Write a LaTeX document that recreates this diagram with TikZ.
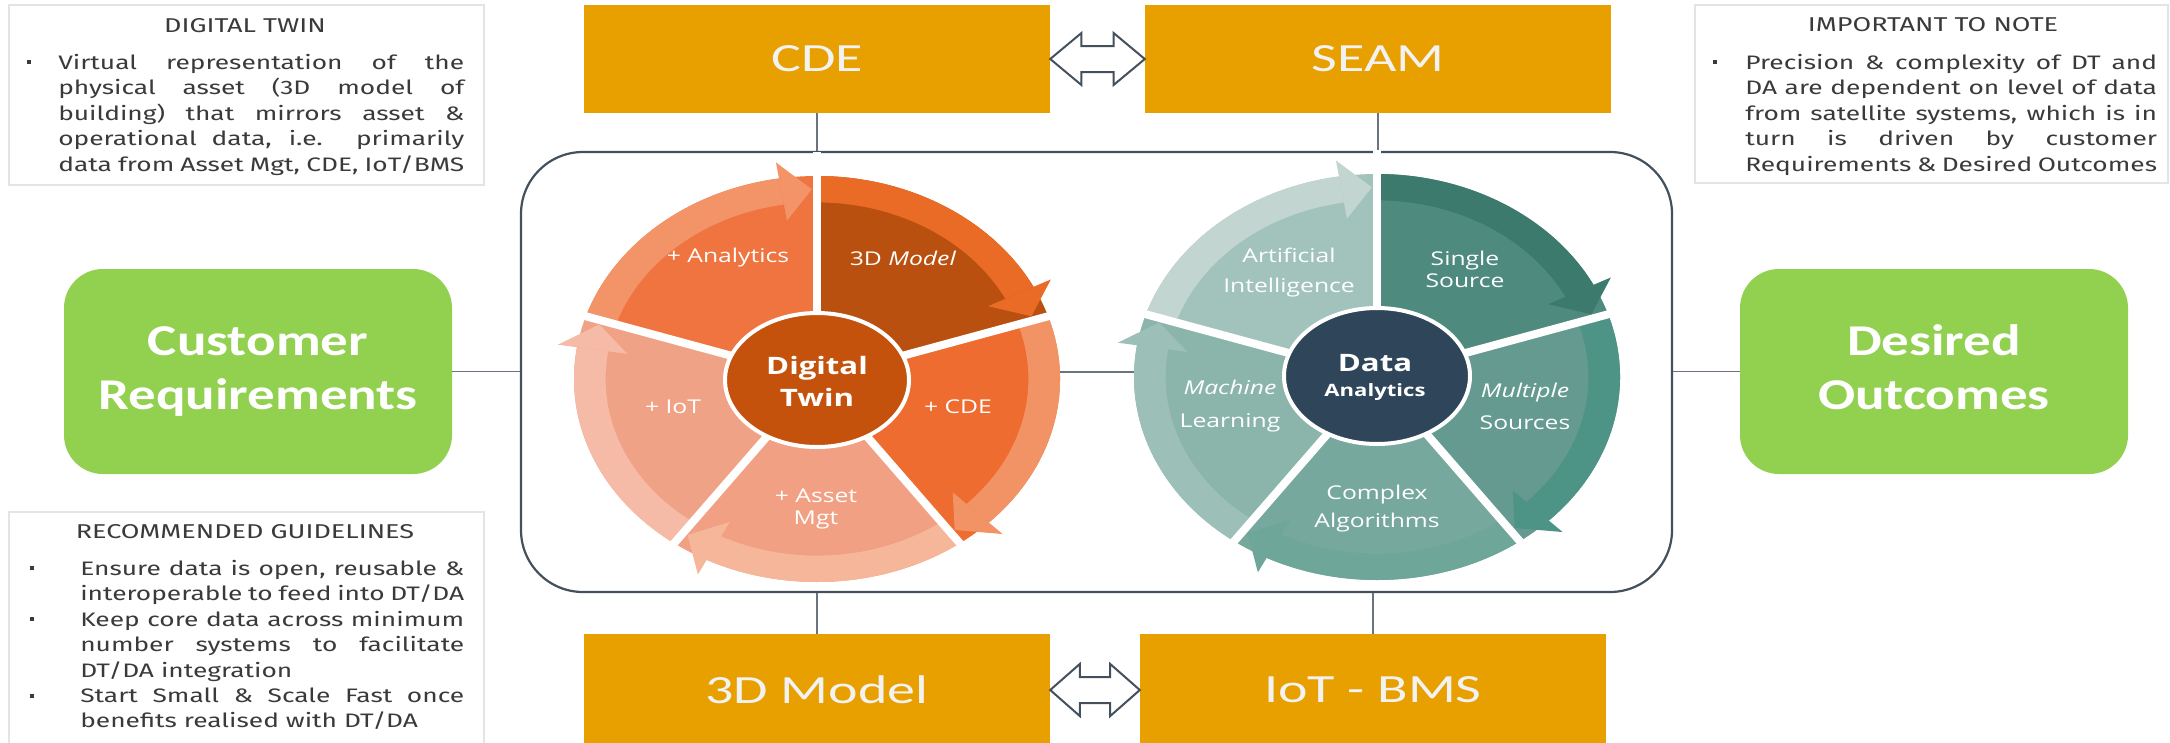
\documentclass[tikz,border=0pt]{standalone}
\usepackage{fontspec}
\setmainfont{Fira Sans}
\newfontfamily\calib{Carlito}
\newfontfamily\wheelf{Open Sans}
\usetikzlibrary{calc}
\setlength{\parindent}{0pt}
\hyphenpenalty=10000 \exhyphenpenalty=10000 \tolerance=10000 \hbadness=10000
\definecolor{gold}{HTML}{E8A000}
\definecolor{lime}{HTML}{92D050}
\definecolor{slate}{HTML}{44505C}
\definecolor{connc}{HTML}{6A7480}
\definecolor{txt}{HTML}{3A3A3A}
\definecolor{frame}{HTML}{E4E4E4}
\definecolor{boxtxt}{HTML}{F2F2F2}
% digital twin wheel
\definecolor{dA}{HTML}{B9500F}\definecolor{dAb}{HTML}{E96B26}
\definecolor{dB}{HTML}{EE6C30}\definecolor{dBb}{HTML}{F29366}
\definecolor{dC}{HTML}{F1A083}\definecolor{dCb}{HTML}{F6B69A}
\definecolor{dD}{HTML}{F0A286}\definecolor{dDb}{HTML}{F5BBA6}
\definecolor{dE}{HTML}{EF7440}\definecolor{dEb}{HTML}{F39468}
\definecolor{dIn}{HTML}{C4510C}
% data analytics wheel
\definecolor{aA}{HTML}{4F8A7E}\definecolor{aAb}{HTML}{3D7A6E}
\definecolor{aB}{HTML}{649A8F}\definecolor{aBb}{HTML}{4E9486}
\definecolor{aC}{HTML}{76A89D}\definecolor{aCb}{HTML}{6EA699}
\definecolor{aD}{HTML}{8BB5AB}\definecolor{aDb}{HTML}{9CBFB7}
\definecolor{aE}{HTML}{A1C3BB}\definecolor{aEb}{HTML}{C3D5D1}
\definecolor{aIn}{HTML}{2F4559}
\newcommand\fl{\rule{0pt}{13pt}}
% segment: start angle, end angle (clockwise), body colour, band colour
\newcommand\wseg[4]{%
  \fill[#3] (0,0) -- (#1:1) arc[start angle=#1, end angle=#2, radius=1] -- cycle;
  \fill[#4] (#1:0.87) -- (#1:1) arc[start angle=#1, end angle={#2+9}, radius=1]
     -- ({#2+9}:0.87) arc[start angle={#2+9}, end angle=#1, radius=0.87] -- cycle;
  \fill[#4] ({#2+9}:0.79) -- ({#2+9}:1.08) -- ({#2+1.3}:0.935) -- cycle;
}
\newcommand\gaps{%
  \foreach \g in {90,18,-54,-126,162} {\draw[white, line width=8pt] (0,0) -- (\g:1.12);}
}
\newcommand\dblarr[2]{%
  \draw[dbl] (#1) -- ($(#1)!0.33!(#2)+(0,-26)$) -- ($(#1)!0.33!(#2)+(0,-13)$)
    -- ($(#1)!0.67!(#2)+(0,-13)$) -- ($(#1)!0.67!(#2)+(0,-26)$) -- (#2)
    -- ($(#1)!0.67!(#2)+(0,26)$) -- ($(#1)!0.67!(#2)+(0,13)$)
    -- ($(#1)!0.33!(#2)+(0,13)$) -- ($(#1)!0.33!(#2)+(0,26)$) -- cycle;
}
\begin{document}
\begin{tikzpicture}[x=1pt,y=-1pt,
  tframe/.style={draw=frame, line width=1.2pt, fill=white, inner sep=0pt},
  para/.style={anchor=north west, inner sep=0pt, align=justify, text=txt,
     font=\fontsize{19.5}{25.4}\selectfont, xscale=1.35},
  ttl/.style={inner sep=0pt, text=txt, font=\fontsize{20}{22}\selectfont, xscale=1.35},
  obox/.style={fill=gold, minimum width=466pt, inner sep=0pt, text=boxtxt,
     font=\calib\fontsize{40}{48}\selectfont},
  gbox/.style={fill=lime, rounded corners=39pt, minimum width=388pt, minimum height=205pt,
     inner sep=0pt, text=white, font=\calib\bfseries\fontsize{44}{54}\selectfont},
  conn/.style={draw=connc, line width=1.5pt},
  dbl/.style={draw=slate, line width=2pt, fill=white, line join=miter},
  wt/.style={inner sep=0pt, text=white, align=center, xscale=1.3,
     font=\wheelf\fontsize{19}{28}\selectfont},
  wtb/.style={wt, font=\wheelf\bfseries\fontsize{24}{32}\selectfont},
  bul/.style={fill=txt, inner sep=0pt, minimum size=4pt},
]
\useasboundingbox (0,0) rectangle (2170,742);
\fill[white] (0,0) rectangle (2170,742);

% ---------- text boxes ----------
\node[tframe, minimum width=475pt, minimum height=180pt] (dtbox) at (246.5,95) {};
\node[tframe, minimum width=473pt, minimum height=178pt] (notebox) at (1931.5,94) {};
\node[tframe, minimum width=475pt, minimum height=240pt] (recbox) at (246.5,632) {};

\node[ttl] (dtttl) at (245,26) {DIGITAL TWIN};
\node[ttl] (notettl) at (1933,25) {IMPORTANT TO NOTE};
\node[ttl] (recttl) at (245,532) {RECOMMENDED GUIDELINES};

\node[bul] (b1) at (29,62) {};
\node[bul] (b2) at (1715,62) {};
\node[bul] (b3) at (32,568) {};
\node[bul] (b4) at (32,619) {};
\node[bul] (b5) at (32,696) {};

\node[para, text width=300.7pt] (dttxt) at (58,54) {\fl Virtual representation of the\linebreak
 physical asset (3D model of\linebreak building) that mirrors asset \&\linebreak
 operational data, i.e. primarily\linebreak data from Asset Mgt, CDE, IoT/BMS};
\node[para, text width=305pt] (notetxt) at (1745,54) {\fl Precision \& complexity of DT and\linebreak
 DA are dependent on level of data\linebreak from satellite systems, which is in\linebreak
 turn is driven by customer\linebreak Requirements \& Desired Outcomes};
\node[para, text width=284.4pt] (rectxt) at (80,560) {\fl Ensure data is open, reusable \&\linebreak
 interoperable to feed into DT/DA\par Keep core data across minimum\linebreak
 number systems to facilitate\linebreak DT/DA integration\par
 Start Small \& Scale Fast once\linebreak benefits realised with DT/DA};

% ---------- main frame ----------
\node[draw=slate, line width=2.2pt, rounded corners=62pt, minimum width=1151pt,
      minimum height=440pt, inner sep=0pt] (main) at (1096.5,372) {};

% ---------- boxes ----------
\node[obox, minimum height=108pt] (cde) at (817,59) {\scalebox{1.4}[1]{CDE}};
\node[obox, minimum height=108pt] (seam) at (1378,59) {\scalebox{1.4}[1]{SEAM}};
\node[obox, minimum height=112pt] (model) at (817,690) {\scalebox{1.4}[1]{3D Model}};
\node[obox, minimum height=112pt] (iotb) at (1373,690) {\scalebox{1.4}[1]{IoT - BMS}};
\node[gbox] (cust) at (258,371.5) {\scalebox{1.25}[1]{\begin{tabular}{@{}c@{}}Customer\\Requirements\end{tabular}}};
\node[gbox] (outc) at (1934,371.5) {\scalebox{1.25}[1]{\begin{tabular}{@{}c@{}}Desired\\Outcomes\end{tabular}}};

% ---------- connectors ----------
\draw[conn] (cde.south) -- (cde.south |- main.north);
\draw[conn] (seam.south) -- (seam.south |- main.north);
\draw[conn] (model.north) -- (model.north |- main.south);
\draw[conn] (iotb.north) -- (iotb.north |- main.south);
\draw[conn] (cust.east) -- (cust.east -| main.west);
\draw[conn] (outc.west) -- (outc.west -| main.east);
\coordinate (dtR) at (1060,372);
\coordinate (daL) at (1135,372);
\draw[conn] (dtR) -- (daL);
\dblarr{cde.east}{seam.west}
\dblarr{model.east}{iotb.west}

% ---------- digital twin wheel ----------
\begin{scope}[shift={(817,379)}, xscale=243, yscale=-203]
  \wseg{90}{18}{dA}{dAb}
  \wseg{18}{-54}{dB}{dBb}
  \wseg{-54}{-126}{dC}{dCb}
  \wseg{-126}{-198}{dD}{dDb}
  \wseg{162}{90}{dE}{dEb}
  \gaps
\end{scope}
\fill[dIn, draw=white, line width=4pt] (817,380) ellipse [x radius=92, y radius=67];
\node[wt] (tAn) at (728,258) {+ Analytics};
\node[wt] (t3d) at (903,258) {3D \textit{Model}};
\node[wt] (tCde) at (958,407) {+ CDE};
\node[wt, font=\wheelf\fontsize{19}{22}\selectfont] (tAs) at (816,509) {+ Asset\\Mgt};
\node[wt] (tIo) at (673,407) {+ IoT};
\node[wtb] (tDt) at (817,381) {Digital\\Twin};

% ---------- data analytics wheel ----------
\begin{scope}[shift={(1377,377)}, xscale=243, yscale=-203]
  \wseg{90}{18}{aA}{aAb}
  \wseg{18}{-54}{aB}{aBb}
  \wseg{-54}{-126}{aC}{aCb}
  \wseg{-126}{-198}{aD}{aDb}
  \wseg{162}{90}{aE}{aEb}
  \gaps
\end{scope}
\fill[aIn, draw=white, line width=4pt] (1377,376) ellipse [x radius=93, y radius=68];
\node[wt, font=\wheelf\fontsize{19}{22}\selectfont] (sSingle) at (1465,269) {Single\\Source};
\node[wt, font=\wheelf\fontsize{19}{32}\selectfont] (sMult) at (1525,406) {\textit{Multiple}\\Sources};
\node[wt, font=\wheelf\fontsize{19}{28}\selectfont] (sComp) at (1377,509) {Complex\\Algorithms};
\node[wt, font=\wheelf\fontsize{19}{33}\selectfont] (sMach) at (1230,406) {\textit{Machine}\\Learning};
\node[wt, font=\wheelf\fontsize{19}{30}\selectfont] (sArt) at (1289,273) {Artificial\\Intelligence};
\node[wtb] (sData) at (1375,363) {Data};
\node[wt, font=\wheelf\bfseries\fontsize{17}{20}\selectfont] (sAna) at (1375,392) {Analytics};
\end{tikzpicture}
\end{document}
